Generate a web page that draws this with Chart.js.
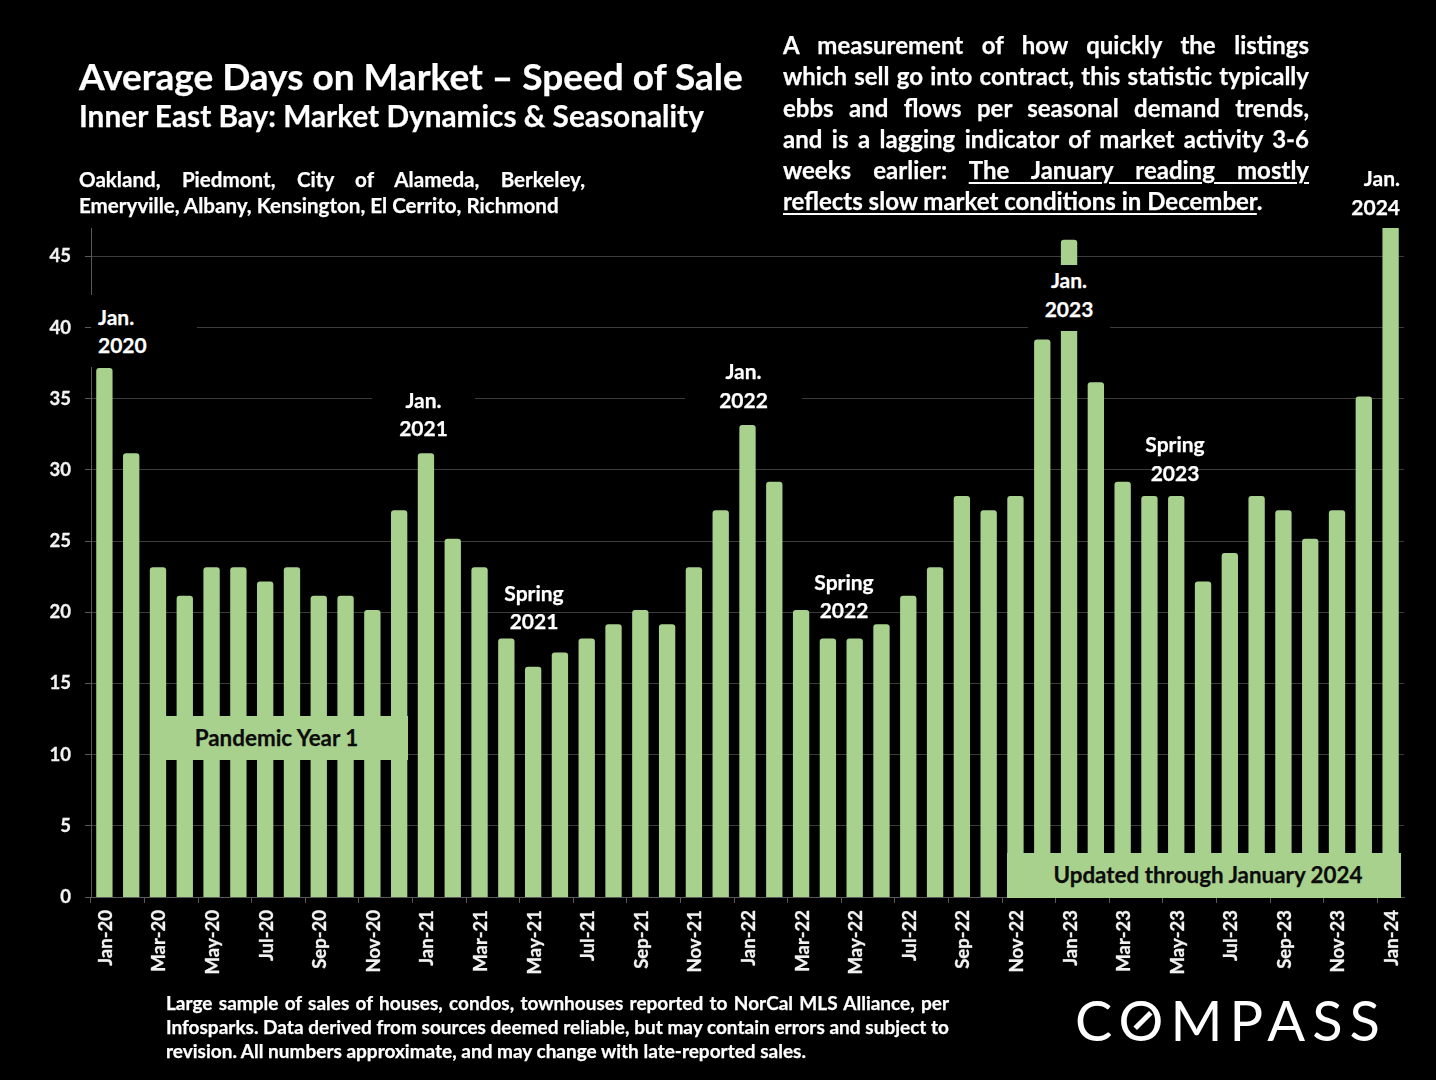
<!DOCTYPE html>
<html lang="en">
<head>
<meta charset="UTF-8">
<title>Average Days on Market</title>
<style>
html, body { margin:0; padding:0; background:#000; }
body { width:1436px; height:1080px; position:relative; overflow:hidden; font-family:Lato, sans-serif; font-weight:700; color:#fff; -webkit-text-stroke:0.25px currentColor; }
#chart { position:absolute; left:0; top:0; }
.t { position:absolute; white-space:nowrap; }
.j { text-align:justify; text-align-last:justify; white-space:normal; }
#title { left:79px; top:56px; font-size:37px; line-height:40px; }
#sub { left:79px; top:98px; font-size:29.8px; line-height:36px; }
.area { font-size:20.6px; line-height:26px; left:79px; }
.para { font-size:24px; line-height:31px; left:783px; width:526px; }
.foot { font-size:19px; line-height:24px; left:166px; width:783px; }
u { text-underline-offset:3px; text-decoration-thickness:2px; }
.note { position:absolute; background:#000; font-size:21px; line-height:29px; text-align:center; }
.note.clear { background:none; }
.note span { position:absolute; left:0; right:0; margin-top:-1.5px; }
.band { position:absolute; background:#a9d18e; color:#0c0c0c; font-size:22.4px; text-align:center; }
#logo { position:absolute; left:1075px; top:986px; font-weight:400; font-size:56px; line-height:68px; letter-spacing:7px; color:#fff; -webkit-text-stroke:0; }
#slash { position:absolute; left:1132px; top:1017.5px; width:22px; height:5px; background:#fff; transform:rotate(-45deg); }
</style>
</head>
<body>
<canvas id="chart" width="1436" height="1080" style="width:1436px;height:1080px"></canvas>

<div class="t" id="title">Average Days on Market – Speed of Sale</div>
<div class="t" id="sub">Inner East Bay: Market Dynamics &amp; Seasonality</div>
<div class="t j area" style="top:166px;width:506px">Oakland, Piedmont, City of Alameda, Berkeley,</div>
<div class="t area" style="top:192px">Emeryville, Albany, Kensington, El Cerrito, Richmond</div>

<div class="t j para" style="top:29px">A measurement of how quickly the listings</div>
<div class="t j para" style="top:60px">which sell go into contract, this statistic typically</div>
<div class="t j para" style="top:92px">ebbs and flows per seasonal demand trends,</div>
<div class="t j para" style="top:123px">and is a lagging indicator of market activity 3-6</div>
<div class="t j para" style="top:154px">weeks earlier: <u>The January reading mostly</u></div>
<div class="t para" style="top:185px"><u>reflects slow market conditions in December</u>.</div>

<div class="note" style="left:91px;top:295px;width:106px;height:72px"><span style="top:8px;left:7px;text-align:left">Jan.</span><span style="top:36px;left:7px;text-align:left">2020</span></div>
<div class="note" style="left:372px;top:388px;width:103px;height:64px"><span style="top:-2px">Jan.</span><span style="top:26px">2021</span></div>
<div class="note" style="left:685px;top:358px;width:117px;height:64px"><span style="top:-1px">Jan.</span><span style="top:28px">2022</span></div>
<div class="note" style="left:1028px;top:265px;width:82px;height:66px"><span style="top:1px">Jan.</span><span style="top:30px">2023</span></div>
<div class="note" style="left:1330px;top:164px;width:94px;height:60px"><span style="top:0;right:24px;text-align:right">Jan.</span><span style="top:29px;right:24px;text-align:right">2024</span></div>
<div class="note clear" style="left:487px;top:580px;width:94px;height:58px"><span style="top:-1px">Spring</span><span style="top:27px">2021</span></div>
<div class="note clear" style="left:797px;top:568px;width:94px;height:58px"><span style="top:0">Spring</span><span style="top:28px">2022</span></div>
<div class="note clear" style="left:1128px;top:430px;width:94px;height:58px"><span style="top:0">Spring</span><span style="top:29px">2023</span></div>

<div class="band" style="left:150px;top:716px;width:253px;height:44px;line-height:44px;padding-right:5px">Pandemic Year 1</div>
<div class="band" style="left:1007px;top:853px;width:394px;height:45px;line-height:44px;text-indent:8px">Updated through January 2024</div>

<div class="t j foot" style="top:991px">Large sample of sales of houses, condos, townhouses reported to NorCal MLS Alliance, per</div>
<div class="t j foot" style="top:1015px">Infosparks. Data derived from sources deemed reliable, but may contain errors and subject to</div>
<div class="t foot" style="top:1039px">revision. All numbers approximate, and may change with late-reported sales.</div>

<div id="logo">COMPASS</div>
<div id="slash"></div>

<script src="https://cdn.jsdelivr.net/npm/chart.js"></script>
<script>
const months = [
'Jan-20','Feb-20','Mar-20','Apr-20','May-20','Jun-20','Jul-20','Aug-20','Sep-20','Oct-20','Nov-20','Dec-20',
'Jan-21','Feb-21','Mar-21','Apr-21','May-21','Jun-21','Jul-21','Aug-21','Sep-21','Oct-21','Nov-21','Dec-21',
'Jan-22','Feb-22','Mar-22','Apr-22','May-22','Jun-22','Jul-22','Aug-22','Sep-22','Oct-22','Nov-22','Dec-22',
'Jan-23','Feb-23','Mar-23','Apr-23','May-23','Jun-23','Jul-23','Aug-23','Sep-23','Oct-23','Nov-23','Dec-23',
'Jan-24'];
const daysOnMarket = [
37,31,23,21,23,23,22,23,21,21,20,27,
31,25,23,18,16,17,18,19,20,19,23,27,
33,29,20,18,18,19,21,23,28,27,28,39,
46,36,29,28,28,22,24,28,27,25,27,35,
49]; // last bar runs off the top of the axis in the original

const tickFont = { family:'Lato', weight:'700', size:18.5 };

new Chart(document.getElementById('chart'), {
  type: 'bar',
  data: {
    labels: months,
    datasets: [{
      data: daysOnMarket,
      backgroundColor: '#a9d18e',
      barPercentage: 0.43,
      categoryPercentage: 1,
      borderRadius: { topLeft:3, topRight:3 },
      borderSkipped: 'bottom',
      inflateAmount: 2.4
    }]
  },
  options: {
    responsive: false,
    animation: false,
    layout: { padding: { top:228, right:32 } },
    plugins: { legend: { display:false }, tooltip: { enabled:false } },
    scales: {
      x: {
        afterFit: s => { s.height = 183; },
        border: { color:'#595959' },
        grid: {
          offset: true,
          drawOnChartArea: false,
          tickLength: 6,
          color: c => c.index % 2 === 0 ? '#595959' : 'transparent'
        },
        ticks: {
          autoSkip: false,
          minRotation: 90,
          maxRotation: 90,
          padding: 7,
          labelOffset: 1.5,
          color: '#f2f2f2',
          textStrokeColor: '#f2f2f2',
          textStrokeWidth: 0.3,
          font: tickFont,
          callback: (v, i) => i % 2 === 0 ? months[i] : ''
        }
      },
      y: {
        min: 0,
        max: 47,
        afterFit: s => { s.width = 91; },
        afterBuildTicks: s => { s.ticks = s.ticks.filter(t => t.value % 5 === 0); },
        border: { color:'#595959' },
        grid: { color:'#3c3c3c', tickLength: 6, tickColor:'#595959' },
        ticks: { stepSize:5, padding: 14, color:'#f2f2f2', textStrokeColor:'#f2f2f2', textStrokeWidth:0.3, font: tickFont }
      }
    }
  }
});
</script>
</body>
</html>
